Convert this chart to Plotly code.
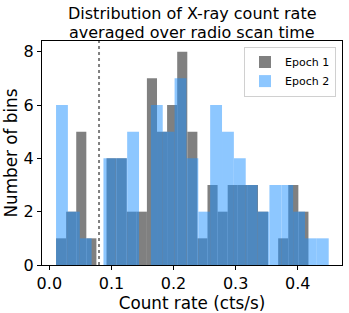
import numpy as np
import plotly.graph_objects as go

# ---- data ----
epoch1_counts = [1, 2, 5, 1, 0, 4, 4, 2, 2, 7, 5, 6, 8, 5, 1, 3, 2, 3, 3, 3, 2, 0, 1, 3, 2]
epoch1_range = [0.0108, 0.4172]
epoch2_counts = [6, 2, 1, 0, 4, 4, 5, 0, 6, 5, 7, 4, 2, 6, 5, 4, 3, 2, 3, 3, 2, 1, 1]
epoch2_range = [0.0108, 0.4498]
threshold = 0.08
series_names = ["Epoch 1", "Epoch 2"]
title_lines = ["Distribution of X-ray count rate", "averaged over radio scan time"]
x_tick_vals = [0.0, 0.1, 0.2, 0.3, 0.4]
y_tick_vals = [0, 2, 4, 6, 8]


def bins(counts, rng):
    edges = np.linspace(rng[0], rng[1], len(counts) + 1)
    centers = (edges[:-1] + edges[1:]) / 2
    widths = np.diff(edges)
    return centers, widths


FONT = "DejaVu Sans"
W, H = 349, 313
ML, MR, MT, MB = 42, 7, 41, 48
PH = H - MT - MB

fig = go.Figure()

c1, w1 = bins(epoch1_counts, epoch1_range)
fig.add_trace(go.Bar(x=c1, y=epoch1_counts, width=w1, name=series_names[0],
                     marker=dict(color="#808080", line=dict(width=0))))
c2, w2 = bins(epoch2_counts, epoch2_range)
fig.add_trace(go.Bar(x=c2, y=epoch2_counts, width=w2, name=series_names[1],
                     marker=dict(color="#1E90FF", line=dict(width=0)), opacity=0.5))

fig.add_shape(type="line", x0=threshold, x1=threshold, xref="x", y0=0, y1=1, yref="paper",
              line=dict(color="#808080", width=2, dash="dot"))

# two-line title
for text, ypix in zip(title_lines, [13.5, 32]):
    fig.add_annotation(text=text, xref="paper", x=0.5, xanchor="center",
                       yref="paper", y=(H - MB - ypix) / PH, yanchor="middle",
                       showarrow=False, font=dict(family=FONT, size=16, color="black"))

axis_common = dict(showline=True, linecolor="black", linewidth=1, mirror=True,
                   ticks="outside", ticklen=4, tickcolor="black", showgrid=False, zeroline=False,
                   automargin=False,
                   tickfont=dict(family=FONT, size=16, color="black"))

fig.update_layout(
    width=W, height=H,
    margin=dict(l=ML, r=MR, t=MT, b=MB, autoexpand=False),
    barmode="overlay",
    plot_bgcolor="white", paper_bgcolor="white",
    font=dict(family=FONT, color="black"),
    xaxis=dict(range=[-0.0118, 0.4712], tickvals=x_tick_vals, tickformat=".1f",
               title=dict(text="Count rate (cts/s)", font=dict(family=FONT, size=16.8), standoff=2),
               **axis_common),
    yaxis=dict(range=[0, 8.4], tickvals=y_tick_vals,
               title=dict(text="Number of bins", font=dict(family=FONT, size=16.8), standoff=1),
               **axis_common),
    legend=dict(x=0.98, y=0.975, xanchor="right", yanchor="top",
                bgcolor="rgba(255,255,255,0.8)", bordercolor="#d0d0d0", borderwidth=1,
                font=dict(family=FONT, size=11, color="black"), itemwidth=30,
                tracegroupgap=0),
    showlegend=True,
)

fig.write_html("out.html", post_script="document.body.style.margin='0';",
               config={"displayModeBar": False})
